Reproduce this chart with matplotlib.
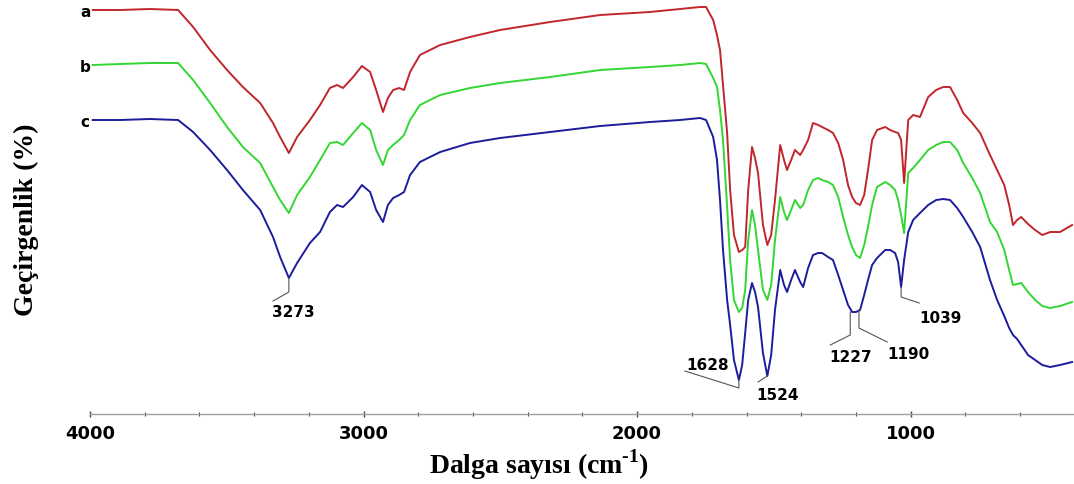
import matplotlib
matplotlib.use("Agg")
import matplotlib.pyplot as plt
import numpy as np
from matplotlib.ticker import MultipleLocator

# dalga sayisi (cm-1)
wn = [3990, 3890, 3781, 3678, 3623, 3561, 3499, 3441, 3378, 3331,
      3305, 3273, 3243, 3196, 3159, 3123, 3097, 3075, 3038, 3006,
      2976, 2954, 2929, 2911, 2892, 2870, 2852, 2830, 2794, 2720,
      2611, 2501, 2318, 2135, 1953, 1843, 1770, 1748, 1722, 1708,
      1697, 1686, 1671, 1660, 1646, 1628, 1616, 1605, 1594, 1580,
      1569, 1558, 1540, 1524, 1510, 1496, 1477, 1463, 1452, 1437,
      1423, 1404, 1393, 1375, 1357, 1338, 1324, 1302, 1284, 1265,
      1247, 1229, 1214, 1200, 1185, 1170, 1156, 1141, 1123, 1093,
      1075, 1057, 1046, 1035, 1024, 1009, 991, 966, 936, 907,
      881, 856, 830, 808, 775, 746, 710, 684, 658, 640,
      626, 611, 596, 571, 545, 519, 490, 454, 410]

# gecirgenlik (keyfi birim, kaydirilmis)
spec_a = [410, 410, 411, 410, 393, 370, 350, 333, 317, 297,
          283, 267, 283, 300, 315, 332, 335, 332, 343, 354,
          348, 330, 308, 322, 330, 332, 330, 348, 365, 375,
          383, 390, 398, 405, 408, 411, 413, 413, 400, 385,
          370, 335, 287, 230, 185, 168, 170, 173, 230, 273,
          262, 247, 195, 175, 185, 220, 275, 260, 250, 260,
          270, 265, 270, 280, 297, 295, 293, 290, 287, 277,
          260, 235, 223, 217, 215, 225, 250, 280, 290, 293,
          290, 288, 287, 280, 237, 300, 305, 303, 323, 330,
          333, 333, 320, 307, 297, 287, 265, 250, 235, 215,
          195, 200, 203, 196, 190, 185, 188, 188, 195]

spec_b = [355, 356, 357, 357, 340, 317, 293, 273, 257, 233,
          220, 207, 225, 243, 260, 277, 278, 275, 287, 297,
          290, 270, 255, 270, 275, 280, 285, 300, 315, 325,
          332, 337, 343, 350, 353, 355, 357, 356, 342, 333,
          310, 280, 213, 160, 120, 108, 112, 130, 180, 210,
          195, 170, 130, 120, 135, 180, 223, 208, 200, 210,
          220, 212, 215, 230, 240, 242, 240, 238, 235, 223,
          203, 185, 173, 165, 162, 175, 193, 215, 233, 238,
          235, 230, 220, 205, 187, 247, 252, 260, 270, 275,
          278, 278, 270, 257, 242, 227, 198, 188, 170, 150,
          135, 136, 137, 128, 120, 114, 112, 114, 118]

spec_c = [300, 300, 301, 300, 288, 270, 250, 230, 210, 183,
          163, 142, 157, 177, 188, 208, 215, 213, 223, 235,
          228, 210, 198, 215, 222, 225, 228, 245, 258, 268,
          277, 282, 288, 294, 298, 300, 302, 300, 283, 260,
          220, 170, 120, 95, 60, 40, 55, 87, 120, 137,
          128, 113, 67, 44, 65, 110, 150, 135, 128, 140,
          150, 138, 133, 152, 165, 167, 167, 163, 160, 145,
          130, 115, 108, 108, 110, 125, 140, 155, 162, 170,
          170, 167, 158, 133, 160, 188, 200, 207, 215, 220,
          221, 220, 212, 203, 188, 173, 140, 120, 104, 92,
          85, 81, 75, 65, 60, 55, 53, 55, 58]

names = ['a', 'b', 'c']
colors = ['#c0262c', '#33d633', '#1c1c9c']

# pik etiketleri: etiket, dalga sayisi, dikey cizgi, capraz uc, yazi yeri
peaks = [
    ('3273', 3273, 14, (3331, 119), (3258, 108)),
    ('1628', 1628, 8, (1825, 49), (1744, 55)),
    ('1524', 1524, 0, (1558, 38), (1485, 25)),
    ('1227', 1221, 23, (1294, 75), (1221, 63)),
    ('1190', 1189, 18, (1086, 78), (1009, 66)),
    ('1039', 1035, 10, (969, 117), (892, 102)),
]

plt.rcParams['font.family'] = ['DejaVu Sans']
plt.rcParams['mathtext.fontset'] = 'custom'
plt.rcParams['mathtext.rm'] = 'Liberation Serif'
plt.rcParams['mathtext.bf'] = 'Liberation Serif:bold'

fig = plt.figure(figsize=(10.74, 4.84), dpi=100)
ax = fig.add_axes([0.0838, 0.1446, 0.9162, 0.8554])

for spec, col, nm in zip([spec_a, spec_b, spec_c], colors, names):
    ax.plot(wn, spec, color=col, lw=1.4)
    ax.text(4018, spec[0] - 2, nm, ha='center', va='center',
            fontsize=11, fontweight='bold', clip_on=False)

wn_arr = np.array(wn)
c_arr = np.array(spec_c)
for lab, w, drop, end, txt in peaks:
    i = np.argmin(np.abs(wn_arr - w))
    y0 = c_arr[i] if abs(wn_arr[i] - w) < 6 else 108
    xs = [w, w, end[0]]
    ys = [y0, y0 - drop, end[1]]
    ax.plot(xs, ys, color='#555555', lw=0.8)
    ax.text(txt[0], txt[1], lab, ha='center', va='center',
            fontsize=11, fontweight='bold')

ax.set_xlim(4000, 403)
ax.set_ylim(6, 420)
ax.xaxis.set_major_locator(MultipleLocator(1000))
ax.xaxis.set_minor_locator(MultipleLocator(200))
ax.tick_params(axis='x', which='both', direction='inout', colors='#444444',
               labelcolor='black', labelsize=13, pad=6)
ax.tick_params(axis='x', which='major', length=4, width=1)
ax.tick_params(axis='x', which='minor', length=3, width=0.8)
for t in ax.get_xticklabels():
    t.set_fontweight('bold')
ax.set_yticks([])
for s in ['top', 'right', 'left']:
    ax.spines[s].set_visible(False)
ax.spines['bottom'].set_color('#a0a0a0')
ax.spines['bottom'].set_linewidth(1.0)

fig.text(0.502, 0.04, 'Dalga sayısı (cm$^{\\mathbf{\u2010 1}}$)', ha='center', va='center',
         fontsize=20, fontweight='bold', family='Liberation Serif')
fig.text(0.025, 0.545, 'Geçirgenlik (%)', ha='center', va='center', rotation=90,
         fontsize=20, fontweight='bold', family='Liberation Serif')

fig.savefig('out.png', dpi=100)
